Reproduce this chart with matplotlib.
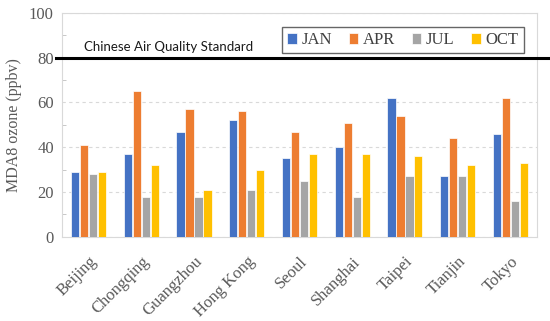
import numpy as np
import matplotlib
matplotlib.use('Agg')
import matplotlib.pyplot as plt
from matplotlib.ticker import MultipleLocator

cities = ['Beijing', 'Chongqing', 'Guangzhou', 'Hong Kong', 'Seoul',
          'Shanghai', 'Taipei', 'Tianjin', 'Tokyo']
jan = [29, 37, 47, 52, 35, 40, 62, 27, 46]
apr = [41, 65, 57, 56, 47, 51, 54, 44, 62]
jul = [28, 18, 18, 21, 25, 18, 27, 27, 16]
octo = [29, 32, 21, 30, 37, 37, 36, 32, 33]
months = ['JAN', 'APR', 'JUL', 'OCT']
colors = ['#4472C4', '#ED7D31', '#A5A5A5', '#FFC000']
standard = 80

serif = ['Liberation Serif', 'DejaVu Serif']
gray = '#595959'

fig = plt.figure(figsize=(5.5, 3.21), dpi=100)
ax = fig.add_axes([0.113, 0.262, 0.863, 0.698])

x = np.arange(len(cities))
w = 0.155
step = 0.17
for i, (vals, lab, c) in enumerate(zip([jan, apr, jul, octo], months, colors)):
    ax.bar(x + (i - 1.5) * step, vals, width=w, color=c, label=lab,
           edgecolor='white', linewidth=0.5, zorder=3)

ax.set_xlim(-0.5, len(cities) - 0.5)
ax.set_ylim(0, 100)
ax.set_yticks(range(0, 101, 20))
ax.yaxis.set_minor_locator(MultipleLocator(10))
ax.grid(axis='y', color='#d9d9d9', linestyle=(0, (3, 3)), linewidth=0.8, zorder=0)
for s in ax.spines.values():
    s.set_color('#d9d9d9')
ax.tick_params(axis='y', which='major', length=0, labelsize=12, labelcolor=gray, pad=6)
ax.tick_params(axis='y', which='minor', length=3, direction='in', color='#bfbfbf')
ax.tick_params(axis='x', length=0, labelsize=12, labelcolor=gray, pad=12)
for t in ax.get_yticklabels():
    t.set_family(serif)
ax.set_xticks(x)
ax.set_xticklabels(cities, rotation=45, ha='right', rotation_mode='anchor', family=serif)
ax.set_ylabel('MDA8 ozone (ppbv)', family=serif, fontsize=11.5, color=gray, labelpad=5)

# standard line
ax.plot([-0.012, 1.03], [standard, standard], color='black', linewidth=2.2,
        transform=ax.get_yaxis_transform(), clip_on=False, zorder=5)
ax.text(0.045, standard + 2.8, 'Chinese Air Quality Standard', transform=ax.get_yaxis_transform(),
        family=['Lato', 'DejaVu Sans'], fontsize=9.5, color='#1a1a1a')

leg = ax.legend(loc='upper right', bbox_to_anchor=(0.972, 0.935), ncol=4, frameon=True,
                fancybox=False, edgecolor='#404040', handlelength=0.55, handleheight=0.55,
                handletextpad=0.3, columnspacing=1.0, borderpad=0.3, borderaxespad=0,
                prop={'family': serif, 'size': 12})
leg.get_frame().set_linewidth(1.0)
for t in leg.get_texts():
    t.set_color('#404040')

fig.savefig('out.png', dpi=100)
